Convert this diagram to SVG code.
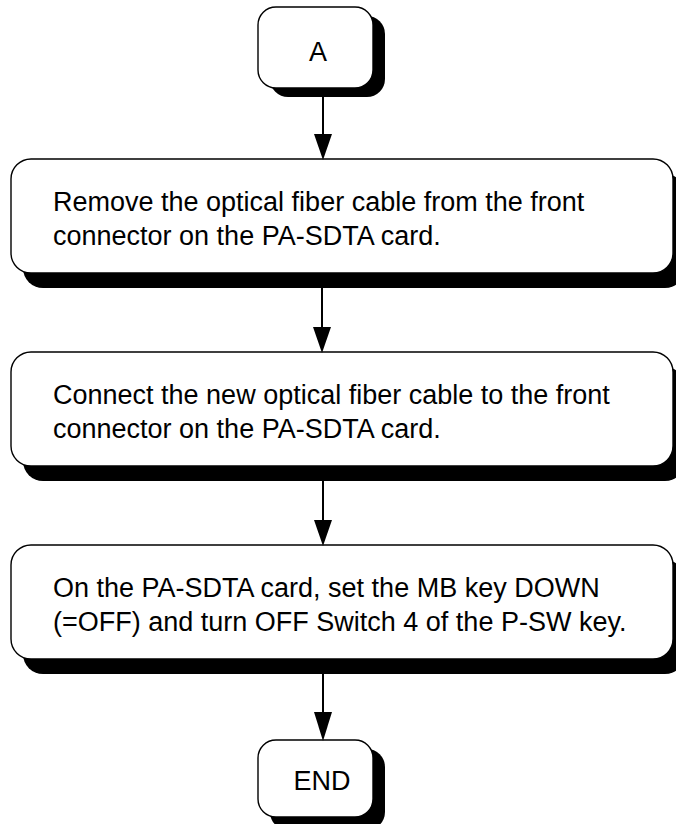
<svg xmlns="http://www.w3.org/2000/svg" width="676" height="824" viewBox="0 0 676 824">
<style>
.sh{fill:#000}
.bx{fill:#fff;stroke:#000;stroke-width:1.4}
.t{font-family:"Liberation Sans",Arial,sans-serif;font-size:27px;fill:#000}
.c{text-anchor:middle}
.ln{stroke:#000;stroke-width:2;fill:none}
.ah{fill:#000}
</style>
<rect width="676" height="824" fill="#fff"/>
<g id="nodeA">
<rect class="sh" x="270" y="16" width="115" height="81" rx="18"/>
<rect class="bx" x="258" y="7" width="115" height="81" rx="18"/>
<text class="t c" x="318" y="61">A</text>
</g>
<g id="step1">
<rect class="sh" x="23" y="174" width="662" height="114" rx="20"/>
<rect class="bx" x="11" y="159" width="662" height="114" rx="20"/>
<text class="t" x="53" y="211">Remove the optical fiber cable from the front</text>
<text class="t" x="53" y="245">connector on the PA-SDTA card.</text>
</g>
<g id="step2">
<rect class="sh" x="23" y="367" width="662" height="114" rx="20"/>
<rect class="bx" x="11" y="352" width="662" height="114" rx="20"/>
<text class="t" x="53" y="404">Connect the new optical fiber cable to the front</text>
<text class="t" x="53" y="438">connector on the PA-SDTA card.</text>
</g>
<g id="step3">
<rect class="sh" x="23" y="560" width="662" height="114" rx="20"/>
<rect class="bx" x="11" y="545" width="662" height="114" rx="20"/>
<text class="t" x="53" y="597">On the PA-SDTA card, set the MB key DOWN</text>
<text class="t" x="53" y="631">(=OFF) and turn OFF Switch 4 of the P-SW key.</text>
</g>
<g id="nodeEND">
<rect class="sh" x="270" y="749" width="115" height="81" rx="18"/>
<rect class="bx" x="258" y="740" width="115" height="77" rx="18"/>
<text class="t c" x="322" y="790">END</text>
</g>
<g id="connectors">
<line class="ln" x1="323" y1="97" x2="323" y2="136"/>
<polygon class="ah" points="314,134 332,134 323,160"/>
<line class="ln" x1="322" y1="288" x2="322" y2="329"/>
<polygon class="ah" points="313,327 331,327 322,353"/>
<line class="ln" x1="323" y1="481" x2="323" y2="522"/>
<polygon class="ah" points="314,520 332,520 323,546"/>
<line class="ln" x1="323" y1="674" x2="323" y2="714"/>
<polygon class="ah" points="314,712 332,712 323,741"/>
</g>
</svg>
